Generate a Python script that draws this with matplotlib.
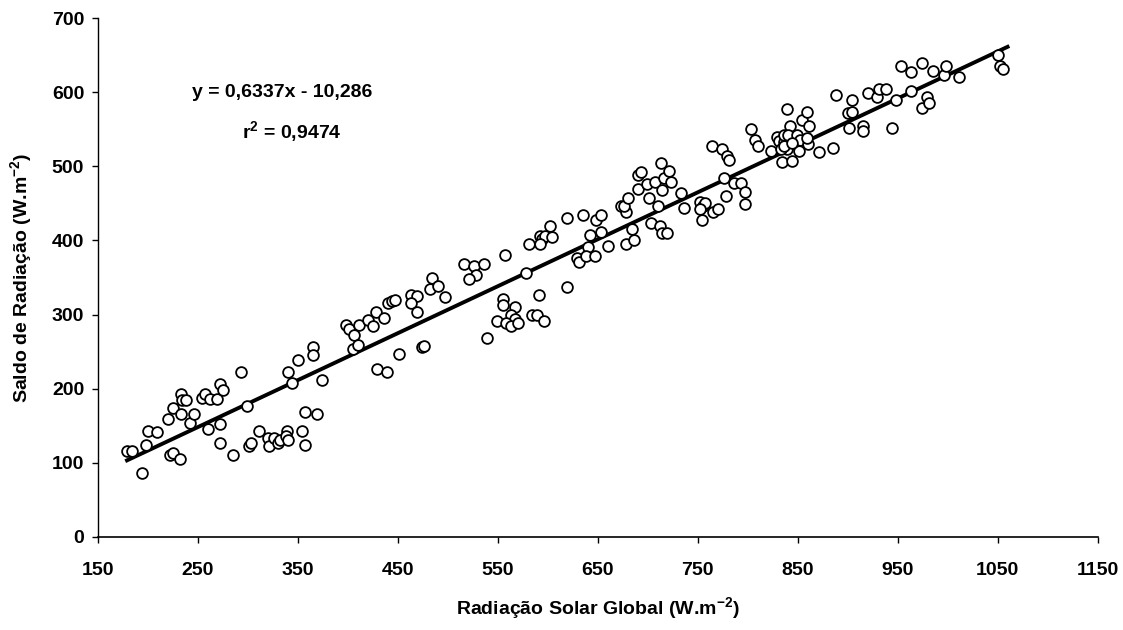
import numpy as np
import matplotlib
matplotlib.use("Agg")
import matplotlib.pyplot as plt

plt.rcParams["font.family"] = ["Liberation Sans", "DejaVu Sans"]
plt.rcParams["font.weight"] = "bold"
plt.rcParams["mathtext.fontset"] = "custom"
plt.rcParams["mathtext.rm"] = "Liberation Sans:bold"
plt.rcParams["mathtext.bf"] = "Liberation Sans:bold"

# global solar radiation (W.m-2)
rg = [
    179, 184, 194, 198, 200, 209, 220, 222, 225, 225, 232, 233, 234, 233, 238,
    242, 246, 254, 257, 262, 269, 272, 275, 260, 272, 272, 285, 293, 299, 301,
    303, 311, 320, 321, 326, 330, 332, 339, 338, 340, 340, 344, 354, 357, 357,
    369, 374, 429, 439,
    350, 365, 365, 398, 401, 406, 405, 410, 411, 420, 425, 428, 436, 440, 444,
    447, 451, 463, 469, 463, 469, 474, 476, 482, 484, 490, 497,
    516, 526, 536, 528, 521, 557, 555, 555, 567, 563, 567, 549, 558, 563, 570,
    539, 581, 578, 591, 584, 589, 596, 592, 594, 597, 602, 604, 592, 619, 619,
    635, 648, 653, 642, 653, 640, 660, 629, 631, 638, 647, 673,
    678, 686, 684, 678, 676, 680, 690, 690, 693, 699, 707, 713, 716, 721, 723,
    714, 701, 710, 703, 712, 714, 719, 733, 736, 752, 755, 757, 752, 754, 765,
    770, 764, 774, 779, 781, 776, 778, 786, 793, 797, 797, 803, 807, 810, 823,
    829, 831, 834, 836, 839, 839, 842,
    836, 840, 849, 852, 854, 859, 861, 860, 851, 844, 833, 836, 844, 859, 871,
    885, 888, 904, 900, 904, 901, 915, 915, 920, 929, 931, 938, 948, 944, 953,
    963, 963, 974, 979, 974, 981, 985, 996, 998, 1011, 1050, 1052, 1055,
]
# net radiation (W.m-2)
rn = [
    116, 116, 86, 124, 143, 141, 159, 111, 113, 174, 105, 193, 184, 166, 184,
    154, 166, 187, 193, 186, 186, 206, 198, 146, 152, 127, 111, 222, 177, 122,
    127, 143, 133, 122, 133, 127, 130, 143, 136, 130, 222, 208, 143, 124, 168,
    166, 211, 226, 223,
    239, 256, 245, 286, 280, 272, 253, 259, 286, 293, 285, 304, 296, 315, 318,
    320, 247, 326, 325, 315, 304, 256, 258, 334, 349, 338, 324,
    368, 365, 368, 353, 348, 381, 321, 313, 310, 300, 294, 291, 289, 285, 289,
    269, 395, 356, 327, 300, 300, 291, 406, 402, 406, 419, 405, 395, 431, 337,
    435, 427, 435, 408, 411, 391, 392, 377, 371, 379, 379, 446,
    395, 400, 416, 438, 447, 458, 469, 489, 492, 476, 479, 504, 484, 494, 479,
    468, 458, 447, 424, 419, 410, 410, 464, 444, 452, 447, 450, 442, 427, 438,
    442, 528, 523, 514, 509, 485, 460, 477, 477, 465, 449, 550, 536, 528, 521,
    540, 534, 506, 533, 577, 523, 555,
    543, 543, 542, 536, 563, 573, 554, 530, 521, 507, 523, 527, 532, 539, 520,
    525, 596, 590, 572, 573, 552, 555, 548, 599, 594, 605, 604, 590, 552, 635,
    627, 602, 639, 594, 579, 586, 629, 624, 635, 621, 651, 635, 631,
]

slope = 0.6337
intercept = -10.286
eq_text = "y = 0,6337x - 10,286"
r2_text = "r$^{2}$ = 0,9474"

x_ticks = np.arange(150, 1151, 100)
y_ticks = np.arange(0, 701, 100)

fig = plt.figure(figsize=(11.23, 6.30), dpi=100)
ax = fig.add_axes([0.0873, 0.148, 0.890, 0.823])

ax.scatter(rg, rn, s=60, facecolors="white", edgecolors="black",
           linewidths=1.3, zorder=3)

x_fit = np.array([min(rg), max(rg) + 5])
ax.plot(x_fit, slope * x_fit + intercept, color="black", lw=2.8, zorder=2)

ax.text(334, 600, eq_text, ha="center", va="center", fontsize=14,
        fontweight="bold")
ax.text(344, 546, r2_text, ha="center", va="center", fontsize=14,
        fontweight="bold")

ax.set_xlim(150, 1150)
ax.set_ylim(0, 700)
ax.set_xticks(x_ticks)
ax.set_yticks(y_ticks)
ax.tick_params(direction="out", length=4, width=1, labelsize=14)
ax.tick_params(axis="y", pad=6)
ax.tick_params(axis="x", pad=14)
for lab in ax.get_xticklabels() + ax.get_yticklabels():
    lab.set_fontweight("bold")

ax.spines["top"].set_visible(False)
ax.spines["right"].set_visible(False)
ax.spines["left"].set_linewidth(1.0)
ax.spines["bottom"].set_linewidth(1.2)

ax.set_xlabel("Radiação Solar Global (W.m$^{-2}$)", fontsize=14,
              fontweight="bold", labelpad=12)
ax.set_ylabel("Saldo de Radiação (W.m$^{-2}$)", fontsize=14,
              fontweight="bold", labelpad=12)

fig.savefig("out.png", dpi=100)
